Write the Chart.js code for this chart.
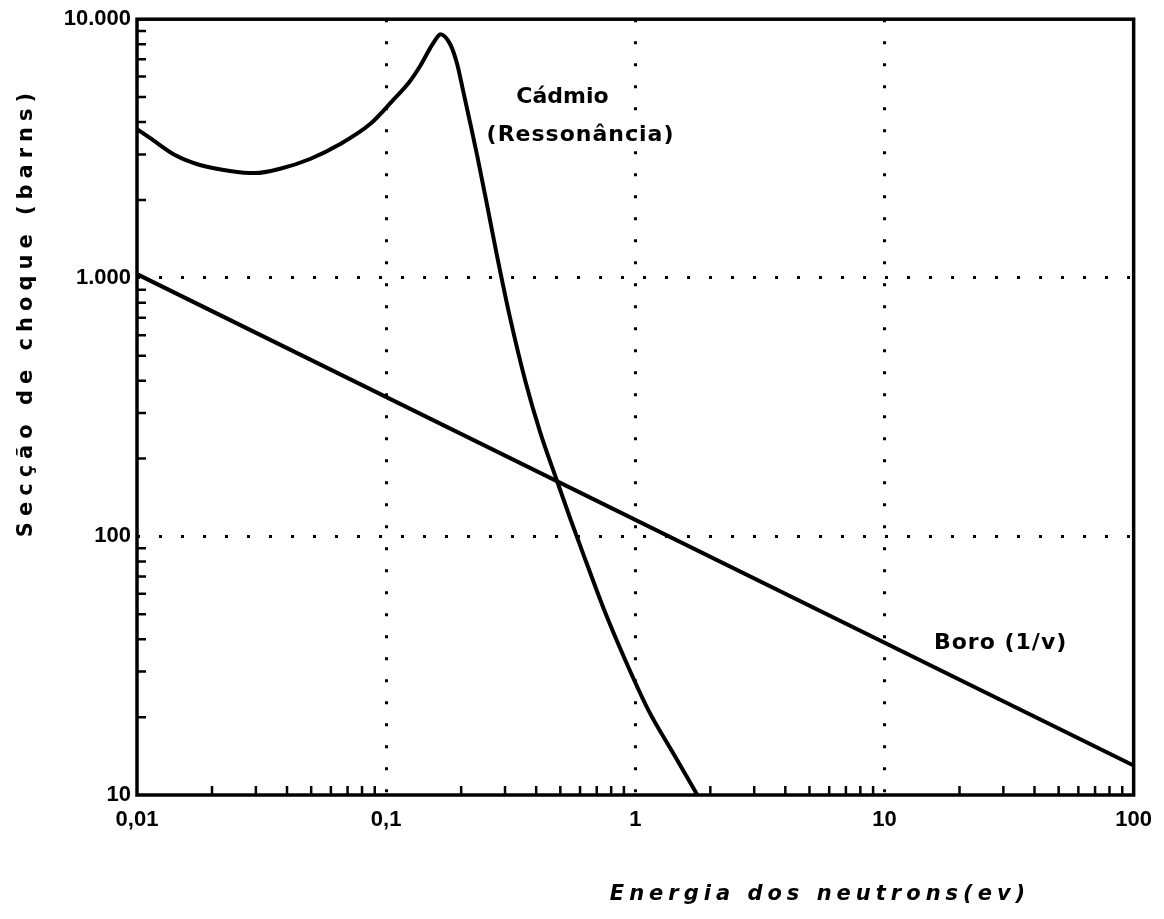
<!DOCTYPE html>
<html>
<head>
<meta charset="utf-8">
<script src="https://cdn.jsdelivr.net/npm/chart.js@4/dist/chart.umd.min.js"></script>
<style>
  body { margin: 0; background: #fff; }
  #wrap { width: 1164px; height: 919px; }
</style>
</head>
<body>
<div id="wrap"><canvas id="chart"></canvas></div>
<script>
// --- Data ---
const cadmioEnergy = [0.01, 0.0113, 0.0142, 0.0179, 0.0236, 0.0298, 0.0375, 0.0495, 0.0654, 0.0862,
                      0.1057, 0.1248, 0.1369, 0.1502, 0.1603, 0.1648, 0.1807, 0.1928, 0.2038, 0.2174,
                      0.232, 0.2544, 0.2791, 0.3148, 0.3616, 0.4155, 0.4817, 0.5483, 0.6357, 0.7507,
                      0.9118, 1.128, 1.408, 1.774];
const cadmioSigma  = [3760, 3470, 2985, 2730, 2590, 2540, 2640, 2880, 3290, 3930,
                      4820, 5770, 6590, 7730, 8520, 8750, 8000, 6700, 5270, 3970,
                      2960, 1900, 1205, 695, 400, 252, 167, 117, 79.4, 51.8,
                      33.2, 21.3, 14.7, 10];

const boroEnergy = [0.01, 100];
const boroSigma  = [1033, 13];

const xTickValues = [0.01, 0.1, 1, 10, 100];
const xTickLabels = ['0,01', '0,1', '1', '10', '100'];
const yTickValues = [10, 100, 1000, 10000];
const yTickLabels = ['10', '100', '1.000', '10.000'];

const toPoints = (xs, ys) => xs.map((x, i) => ({ x: x, y: ys[i] }));

function labelFor(values, labels, v) {
    const i = values.findIndex(t => Math.abs(Math.log10(t) - Math.log10(v)) < 1e-6);
    return i >= 0 ? labels[i] : '';
}

// decade ticks 1..9 x 10^n, majors on powers of ten
function decadeTicks(scale) {
    const ticks = [];
    const lo = Math.round(Math.log10(scale.min));
    const hi = Math.round(Math.log10(scale.max));
    for (let e = lo; e <= hi; e++) {
        for (let m = 1; m <= 9; m++) {
            const v = m * Math.pow(10, e);
            if (v > scale.max * 1.0001) break;
            ticks.push({ value: v, major: m === 1 });
        }
    }
    scale.ticks = ticks;
}

function gridColor(ctx) {
    const s = ctx.scale;
    if (!ctx.tick || !ctx.tick.major) return 'rgba(0,0,0,0)';
    if (Math.abs(ctx.tick.value - s.min) < 1e-9 || Math.abs(ctx.tick.value - s.max) < 1e-6) return 'rgba(0,0,0,0)';
    return '#000';
}

const FONT = "'Liberation Sans', Arial, sans-serif";
const TITLE_FONT = "'DejaVu Sans', sans-serif";

// frame, inward minor ticks and text labels
const decorPlugin = {
    id: 'decor',
    afterDatasetsDraw(chart) {
        const ctx = chart.ctx;
        const a = chart.chartArea;
        const xs = chart.scales.x, ys = chart.scales.y;
        ctx.save();
        ctx.strokeStyle = '#000';
        ctx.lineWidth = 2.5;
        ctx.beginPath();
        xs.ticks.forEach(t => {
            if (t.major) return;
            const px = xs.getPixelForValue(t.value);
            ctx.moveTo(px, a.bottom);
            ctx.lineTo(px, a.bottom - 9);
        });
        ys.ticks.forEach(t => {
            if (t.major) return;
            const py = ys.getPixelForValue(t.value);
            ctx.moveTo(a.left, py);
            ctx.lineTo(a.left + 9, py);
        });
        ctx.stroke();
        ctx.lineWidth = 3.5;
        ctx.strokeRect(a.left, a.top, a.right - a.left, a.bottom - a.top);

        ctx.fillStyle = '#000';
        ctx.textBaseline = 'middle';
        ctx.textAlign = 'left';
        ctx.font = 'bold 22px ' + TITLE_FONT;
        ctx.fillText('Cádmio', xs.getPixelForValue(0.333), ys.getPixelForValue(5000));
        ctx.letterSpacing = '1px';
        ctx.fillText('(Ressonância)', xs.getPixelForValue(0.253), ys.getPixelForValue(3560));
        ctx.fillText('Boro (1/v)', xs.getPixelForValue(15.8), ys.getPixelForValue(38.6));

        // axis titles
        ctx.textAlign = 'center';
        ctx.font = 'italic bold 21px ' + TITLE_FONT;
        ctx.letterSpacing = '5px';
        ctx.fillText('Energia dos neutrons(ev)', 820, 895);

        ctx.font = 'bold 21px ' + TITLE_FONT;
        ctx.letterSpacing = '6px';
        ctx.translate(27, 312);
        ctx.rotate(-Math.PI / 2);
        ctx.fillText('Secção de choque (barns)', 0, 0);
        ctx.restore();
    }
};

new Chart(document.getElementById('chart').getContext('2d'), {
    type: 'scatter',
    data: {
        datasets: [
            {
                label: 'Cádmio (Ressonância)',
                data: toPoints(cadmioEnergy, cadmioSigma),
                showLine: true,
                borderColor: '#000',
                borderWidth: 4,
                pointRadius: 0,
                cubicInterpolationMode: 'monotone'
            },
            {
                label: 'Boro (1/v)',
                data: toPoints(boroEnergy, boroSigma),
                showLine: true,
                borderColor: '#000',
                borderWidth: 4,
                pointRadius: 0
            }
        ]
    },
    options: {
        responsive: true,
        maintainAspectRatio: false,
        animation: false,
        layout: { padding: { top: 8, right: 29, left: 0, bottom: 0 } },
        plugins: { legend: { display: false }, tooltip: { enabled: false } },
        scales: {
            x: {
                type: 'logarithmic',
                min: 0.01,
                max: 100,
                afterBuildTicks: decadeTicks,
                afterFit: s => { s.height = 124; },
                grid: { color: gridColor, lineWidth: 3, drawTicks: false },
                border: { display: false, dash: [3, 19] },
                ticks: {
                    autoSkip: false,
                    maxRotation: 0,
                    padding: 12,
                    color: '#000',
                    font: { size: 22, weight: 'bold', family: FONT },
                    callback: v => labelFor(xTickValues, xTickLabels, v)
                }
            },
            y: {
                type: 'logarithmic',
                min: 10,
                max: 10000,
                afterBuildTicks: decadeTicks,
                afterFit: s => { s.width = 137; },
                grid: { color: gridColor, lineWidth: 3, drawTicks: false },
                border: { display: false, dash: [3, 19] },
                ticks: {
                    autoSkip: false,
                    padding: 6,
                    color: '#000',
                    font: { size: 22, weight: 'bold', family: FONT },
                    callback: v => labelFor(yTickValues, yTickLabels, v)
                }
            }
        }
    },
    plugins: [decorPlugin]
});
</script>
</body>
</html>
